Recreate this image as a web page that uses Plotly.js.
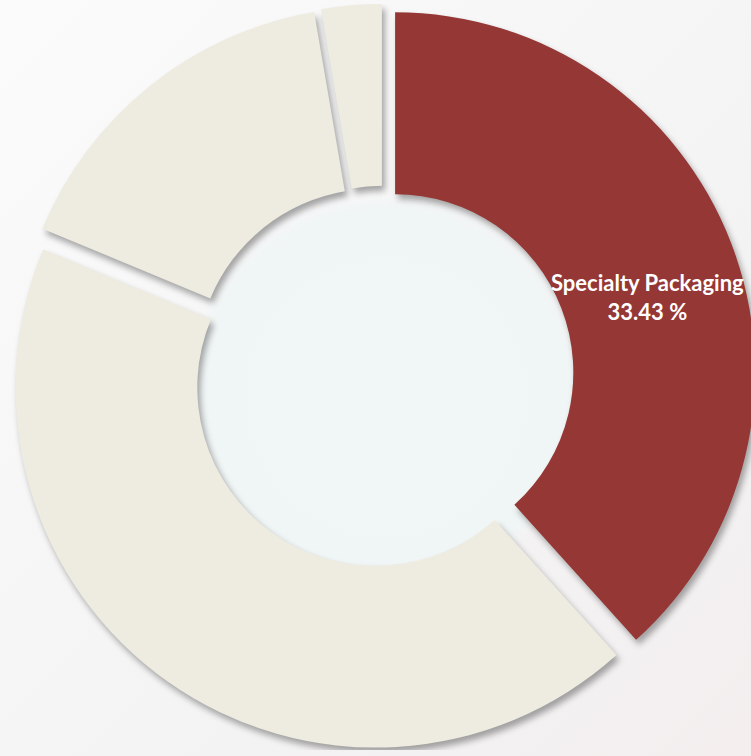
<!DOCTYPE html>
<html>
<head>
<meta charset="utf-8">
<script src="https://cdn.plot.ly/plotly-3.0.1.min.js"></script>
<style>
  html, body { margin: 0; padding: 0; width: 751px; height: 756px; overflow: hidden; }
  body {
    background:
      radial-gradient(circle at 385px 395px, #f1f6f6 0px, #f0f5f5 185px, rgba(246,246,247,0) 200px),
      linear-gradient(135deg, #fbfbfb 0%, #f5f5f6 50%, #f3f1f2 80%, #f4eeee 100%);
  }
  #chart { position: absolute; left: 10px; top: 4px; }
  #chart .slice path.surface { filter: drop-shadow(3px 5px 3px rgba(60,60,60,0.45)); }
</style>
</head>
<body>
<div id="chart"></div>
<script>
// Data (slice shares in %, order clockwise from 12 o'clock)
const categories = ["Specialty Packaging", "Segment B", "Segment C", "Segment D"];
const shares = [38.33, 42.94, 16.03, 2.70];
const labelText = "Specialty Packaging<br>33.43 %";
const sliceColors = ["#953735", "#eeebe0", "#eeebe0", "#eeebe0"];

const trace = {
  type: "pie",
  labels: categories,
  values: shares,
  textinfo: "none",
  hoverinfo: "none",
  sort: false,
  direction: "clockwise",
  rotation: 0,
  hole: 0.495,
  pull: [0.036, 0.036, 0.036, 0.036],
  marker: { colors: sliceColors, line: { width: 0 } },
  showlegend: false,
  domain: { x: [0, 1], y: [0, 1] }
};

const layout = {
  width: 746,
  height: 746,
  margin: { l: 0, r: 0, t: 0, b: 0, pad: 0 },
  paper_bgcolor: "rgba(0,0,0,0)",
  plot_bgcolor: "rgba(0,0,0,0)",
  showlegend: false,
  annotations: [{
    text: labelText,
    xref: "paper", yref: "paper",
    x: 0.855, y: 0.607,
    xanchor: "center", yanchor: "middle",
    align: "center",
    showarrow: false,
    font: { family: "Lato, 'Open Sans', sans-serif", size: 22, color: "#ffffff", weight: "bold" }
  }]
};

Plotly.newPlot("chart", [trace], layout, { staticPlot: true, displayModeBar: false });
</script>
</body>
</html>
